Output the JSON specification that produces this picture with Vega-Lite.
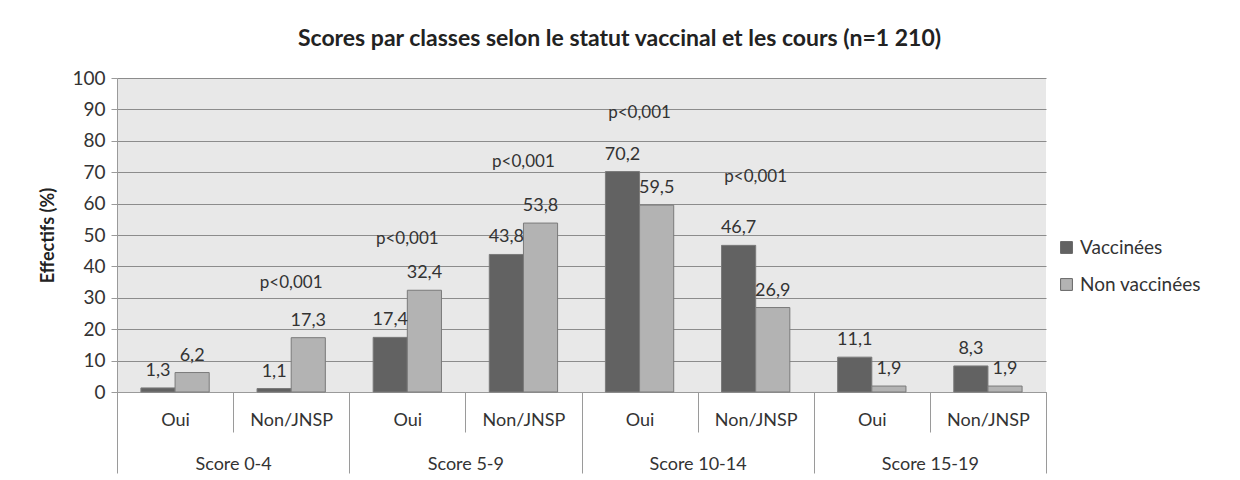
{
  "$schema": "https://vega.github.io/schema/vega-lite/v6.json",
  "autosize": {"type": "none"},
  "width": 929,
  "height": 314,
  "padding": {"left": 117, "top": 78, "right": 194, "bottom": 88},
  "background": "white",
  "config": {
    "font": "Lato",
    "locale": {"number": {"decimal": ",", "thousands": " ", "grouping": [3], "currency": ["", " €"]}},
    "view": {"fill": "#e8e8e8", "stroke": null},
    "axis": {"labelFont": "Lato", "labelColor": "#333333", "titleFont": "Lato"},
    "axisY": {
      "title": "Effectifs (%)",
      "titleFontSize": 18,
      "titleFontWeight": "bold",
      "titleColor": "#222222",
      "titlePadding": 14,
      "values": [0, 10, 20, 30, 40, 50, 60, 70, 80, 90, 100],
      "labelOverlap": false,
      "labelFontSize": 19,
      "labelPadding": 6,
      "tickSize": 6,
      "tickColor": "#9a9a9a",
      "domainColor": "#9a9a9a",
      "gridColor": "#8c8c8c",
      "gridWidth": 1
    }
  },
  "title": {
    "text": "Scores par classes selon le statut vaccinal et les cours (n=1 210)",
    "fontSize": 23,
    "font": "Lato",
    "fontWeight": "bold",
    "color": "#222222",
    "anchor": "middle",
    "dx": 38,
    "offset": 18
  },
  "datasets": {
    "bars": [
      {"key": "Score 0-4|Oui", "group": "Score 0-4", "series": "Vaccinées", "value": 1.3},
      {"key": "Score 0-4|Oui", "group": "Score 0-4", "series": "Non vaccinées", "value": 6.2},
      {"key": "Score 0-4|Non/JNSP", "group": "Score 0-4", "series": "Vaccinées", "value": 1.1},
      {"key": "Score 0-4|Non/JNSP", "group": "Score 0-4", "series": "Non vaccinées", "value": 17.3},
      {"key": "Score 5-9|Oui", "group": "Score 5-9", "series": "Vaccinées", "value": 17.4},
      {"key": "Score 5-9|Oui", "group": "Score 5-9", "series": "Non vaccinées", "value": 32.4},
      {"key": "Score 5-9|Non/JNSP", "group": "Score 5-9", "series": "Vaccinées", "value": 43.8},
      {"key": "Score 5-9|Non/JNSP", "group": "Score 5-9", "series": "Non vaccinées", "value": 53.8},
      {"key": "Score 10-14|Oui", "group": "Score 10-14", "series": "Vaccinées", "value": 70.2},
      {"key": "Score 10-14|Oui", "group": "Score 10-14", "series": "Non vaccinées", "value": 59.5},
      {"key": "Score 10-14|Non/JNSP", "group": "Score 10-14", "series": "Vaccinées", "value": 46.7},
      {"key": "Score 10-14|Non/JNSP", "group": "Score 10-14", "series": "Non vaccinées", "value": 26.9},
      {"key": "Score 15-19|Oui", "group": "Score 15-19", "series": "Vaccinées", "value": 11.1},
      {"key": "Score 15-19|Oui", "group": "Score 15-19", "series": "Non vaccinées", "value": 1.9},
      {"key": "Score 15-19|Non/JNSP", "group": "Score 15-19", "series": "Vaccinées", "value": 8.3},
      {"key": "Score 15-19|Non/JNSP", "group": "Score 15-19", "series": "Non vaccinées", "value": 1.9}
    ],
    "pvals": [
      {"key": "Score 0-4|Non/JNSP", "y": 34.7, "label": "p<0,001"},
      {"key": "Score 5-9|Oui", "y": 48.7, "label": "p<0,001"},
      {"key": "Score 5-9|Non/JNSP", "y": 73.3, "label": "p<0,001"},
      {"key": "Score 10-14|Oui", "y": 88.8, "label": "p<0,001"},
      {"key": "Score 10-14|Non/JNSP", "y": 68.6, "label": "p<0,001"}
    ]
  },
  "resolve": {"scale": {"x": "independent"}, "axis": {"x": "independent"}},
  "layer": [
    {
      "resolve": {"scale": {"x": "shared"}},
      "layer": [
        {
          "data": {"name": "bars"},
          "mark": {"type": "bar", "stroke": "#7a7a7a", "strokeWidth": 1},
          "encoding": {
            "x": {
              "field": "key", "type": "nominal",
              "scale": {
                "domain": ["Score 0-4|Oui", "Score 0-4|Non/JNSP", "Score 5-9|Oui", "Score 5-9|Non/JNSP", "Score 10-14|Oui", "Score 10-14|Non/JNSP", "Score 15-19|Oui", "Score 15-19|Non/JNSP"],
                "paddingInner": 0, "paddingOuter": 0
              },
              "axis": {
                "orient": "bottom",
                "title": null,
                "labelExpr": "split(datum.value, '|')[1]",
                "labelAngle": 0,
                "labelFontSize": 18,
                "labelBaseline": "middle",
                "labelPadding": -12,
                "tickBand": "extent",
                "tickSize": 40,
                "tickColor": "#9a9a9a",
                "domainColor": "#9a9a9a",
                "grid": false
              }
            },
            "xOffset": {
              "field": "series", "type": "nominal",
              "sort": ["Vaccinées", "Non vaccinées"],
              "scale": {"paddingInner": 0, "paddingOuter": 0.7}
            },
            "y": {
              "field": "value", "type": "quantitative",
              "scale": {"domain": [0, 100], "nice": false},
              "axis": {"title": "Effectifs (%)", "values": [0, 10, 20, 30, 40, 50, 60, 70, 80, 90, 100], "labelOverlap": false}
            },
            "color": {
              "field": "series", "type": "nominal",
              "scale": {"domain": ["Vaccinées", "Non vaccinées"], "range": ["#626262", "#b3b3b3"]},
              "legend": {
                "title": null,
                "orient": "none",
                "legendX": 940,
                "legendY": 160,
                "symbolType": "square",
                "symbolSize": 140,
                "symbolStrokeColor": "#666666",
                "symbolStrokeWidth": 1,
                "labelFontSize": 19,
                "labelColor": "#333333",
                "labelFont": "Lato",
                "rowPadding": 17,
                "labelOffset": 4
              }
            }
          }
        },
        {
          "data": {"name": "bars"},
          "mark": {"type": "text", "baseline": "bottom", "dy": -8, "fontSize": 18, "color": "#333333", "font": "Lato"},
          "encoding": {
            "x": {"field": "key", "type": "nominal"},
            "xOffset": {"field": "series", "type": "nominal", "sort": ["Vaccinées", "Non vaccinées"]},
            "y": {"field": "value", "type": "quantitative", "axis": {"title": "Effectifs (%)", "values": [0, 10, 20, 30, 40, 50, 60, 70, 80, 90, 100], "labelOverlap": false}},
            "text": {"field": "value", "type": "quantitative", "format": ".1f"}
          }
        },
        {
          "data": {"name": "pvals"},
          "mark": {"type": "text", "baseline": "middle", "fontSize": 17, "color": "#333333", "font": "Lato"},
          "encoding": {
            "x": {"field": "key", "type": "nominal"},
            "y": {"field": "y", "type": "quantitative", "axis": {"title": "Effectifs (%)", "values": [0, 10, 20, 30, 40, 50, 60, 70, 80, 90, 100], "labelOverlap": false}},
            "text": {"field": "label", "type": "nominal"}
          }
        }
      ]
    },
    {
      "data": {"name": "bars"},
      "mark": {"type": "point", "opacity": 0},
      "encoding": {
        "x": {
          "field": "group", "type": "nominal",
          "scale": {"domain": ["Score 0-4", "Score 5-9", "Score 10-14", "Score 15-19"], "paddingInner": 0, "paddingOuter": 0},
          "axis": {
            "orient": "bottom",
            "title": null,
            "labelAngle": 0,
            "labelFontSize": 18,
            "labelBaseline": "middle",
            "labelPadding": -9,
            "tickBand": "extent",
            "tickSize": 81,
            "tickColor": "#9a9a9a",
            "domain": false,
            "grid": false
          }
        }
      }
    }
  ]
}
